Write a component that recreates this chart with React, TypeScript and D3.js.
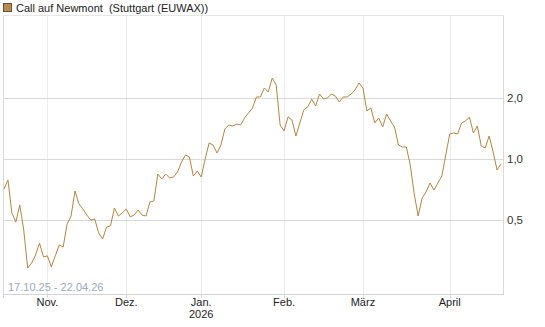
import * as d3 from "d3";

// --- Daten ---

const firstDay = "2025-10-17";
const lastDay = "2026-04-22";
// Börsenfeiertage Stuttgart im Zeitraum
const holidays = ["2025-12-24", "2025-12-25", "2025-12-26", "2025-12-31", "2026-01-01", "2026-04-03", "2026-04-06"];

const prices = [
  0.713, 0.789, 0.544, 0.491, 0.595, 0.449, 0.292, 0.309, 0.338, 0.387, 0.331,
  0.335, 0.296, 0.335, 0.379, 0.37, 0.48, 0.525, 0.697, 0.602, 0.569, 0.531,
  0.502, 0.508, 0.434, 0.405, 0.464, 0.47, 0.575, 0.525, 0.544,
  0.569, 0.52, 0.531, 0.562, 0.531, 0.525, 0.616, 0.622, 0.844, 0.798, 0.844,
  0.807, 0.816, 0.864, 0.967, 1.046, 1.023, 0.825, 0.873,
  0.816, 1.0, 1.198, 1.171, 1.07, 1.171, 1.403, 1.468, 1.451, 1.485, 1.468,
  1.589, 1.681, 1.779, 2.014, 2.014, 2.229, 2.13, 2.495, 2.306, 1.468,
  1.372, 1.607, 1.553, 1.296, 1.501, 1.739, 1.799, 1.968, 1.819, 2.083, 1.968,
  1.991, 2.083, 2.036, 1.903, 2.014, 2.014, 2.083, 2.179, 2.358,
  2.229, 1.719, 1.779, 1.501, 1.589, 1.435, 1.662, 1.536, 1.435, 1.171, 1.145,
  1.145, 0.934, 0.674, 0.525, 0.644, 0.689, 0.763, 0.705, 0.763, 0.825, 1.046,
  1.326, 1.341, 1.326, 1.501, 1.536, 1.607, 1.341, 1.451, 1.158, 1.132, 1.296,
  1.082, 0.883, 0.945,
];

const monthLabels = ["Nov.", "Dez.", "Jan.", "Feb.", "März", "April"];
const yTicks = [0.5, 1, 2];
const yTickLabels = ["0,5", "1,0", "2,0"];

const title = "Call auf Newmont  (Stuttgart (EUWAX))";
const rangeLabel = "17.10.25 - 22.04.26";

// --- Layout ---

const W = 545;
const H = 327;
const PLOT = { left: 3, right: 503, top: 15, bottom: 294 };
const LINE_COLOR = "#b7843f";
const FONT = "'Liberation Sans', Arial, sans-serif";

function tradingDays(): Date[] {
  const fmt = d3.utcFormat("%Y-%m-%d");
  return d3
    .utcDays(new Date(firstDay), d3.utcDay.offset(new Date(lastDay), 1))
    .filter((d) => d.getUTCDay() !== 0 && d.getUTCDay() !== 6)
    .filter((d) => !holidays.includes(fmt(d)));
}

export default function App() {
  const days = tradingDays();

  const x = d3
    .scaleLinear()
    .domain([0, days.length - 1])
    .range([PLOT.left + 1, PLOT.right - 2]);

  const y = d3.scaleLog().domain([0.2178, 5.08]).range([PLOT.bottom, PLOT.top]);

  // erster Handelstag je Monat
  const monthStarts: number[] = [];
  days.forEach((d, i) => {
    if (i > 0 && d.getUTCMonth() !== days[i - 1].getUTCMonth()) monthStarts.push(i);
  });

  const line = d3
    .line<number>()
    .x((_, i) => x(i))
    .y((d) => y(d));

  return (
    <svg
      width={W}
      height={H}
      style={{ position: "absolute", left: 0, top: 0, background: "#fff" }}
      fontFamily={FONT}
    >
      {/* Titel */}
      <rect x={3.5} y={3.5} width={8} height={8} fill="#b58a55" stroke="#6b5030" strokeWidth={1} />
      <text x={16} y={11.5} fontSize={11} fill="#222" style={{ whiteSpace: "pre" }}>
        {title}
      </text>

      {/* vertikale Gitterlinien */}
      {monthStarts.map((i) => (
        <line
          key={"v" + i}
          x1={Math.round(x(i)) + 0.5}
          x2={Math.round(x(i)) + 0.5}
          y1={PLOT.top}
          y2={PLOT.bottom}
          stroke="#ececec"
        />
      ))}

      {/* horizontale Gitterlinien */}
      {yTicks.map((t) => (
        <line
          key={"h" + t}
          x1={PLOT.left}
          x2={PLOT.right}
          y1={Math.round(y(t)) + 0.5}
          y2={Math.round(y(t)) + 0.5}
          stroke="#d9d9d9"
        />
      ))}

      {/* Rahmen */}
      <line x1={PLOT.left + 0.5} x2={PLOT.left + 0.5} y1={PLOT.top} y2={PLOT.bottom} stroke="#d9d9d9" />
      <line x1={PLOT.right + 0.5} x2={PLOT.right + 0.5} y1={PLOT.top} y2={PLOT.bottom} stroke="#d9d9d9" />
      <line x1={PLOT.left} x2={PLOT.right + 1} y1={PLOT.top + 0.5} y2={PLOT.top + 0.5} stroke="#e6e6e6" />
      <line x1={PLOT.left} x2={PLOT.right + 1} y1={PLOT.bottom + 0.5} y2={PLOT.bottom + 0.5} stroke="#d4d4d4" />

      {/* Zeitraum */}
      <text x={8} y={291} fontSize={11} fill="#9ea8bb">
        {rangeLabel}
      </text>

      {/* Kurslinie */}
      <path d={line(prices) ?? ""} fill="none" stroke={LINE_COLOR} strokeWidth={1} />

      {/* Y-Achse rechts */}
      {yTicks.map((t, k) => (
        <text key={"yl" + t} x={507} y={y(t) + 4} fontSize={11.5} fill="#333">
          {yTickLabels[k]}
        </text>
      ))}

      {/* X-Achse */}
      <line x1={PLOT.left + 0.5} x2={PLOT.left + 0.5} y1={PLOT.bottom} y2={PLOT.bottom + 4} stroke="#d4d4d4" />
      {monthStarts.map((i, k) => (
        <g key={"m" + i}>
          <line
            x1={Math.round(x(i)) + 0.5}
            x2={Math.round(x(i)) + 0.5}
            y1={PLOT.bottom}
            y2={PLOT.bottom + 4}
            stroke="#d4d4d4"
          />
          <text x={x(i)} y={305.5} fontSize={11} fill="#222" textAnchor="middle">
            {monthLabels[k]}
          </text>
          {days[i].getUTCMonth() === 0 && (
            <text x={x(i)} y={317.5} fontSize={11} fill="#222" textAnchor="middle">
              {days[i].getUTCFullYear()}
            </text>
          )}
        </g>
      ))}
    </svg>
  );
}
